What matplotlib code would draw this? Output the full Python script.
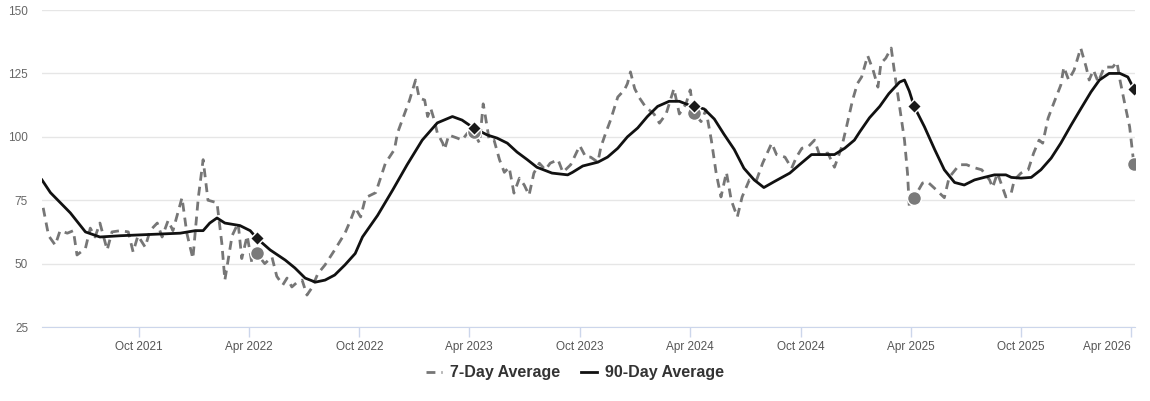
import pandas as pd
import matplotlib.pyplot as plt

plt.rcParams['font.family'] = ['Liberation Sans', 'DejaVu Sans']

# 7-day average
DAYS_7 = [
    '2021-04-25', '2021-05-04', '2021-05-15', '2021-05-23', '2021-06-04', '2021-06-14',
    '2021-06-20', '2021-07-04', '2021-07-12', '2021-07-20', '2021-07-28', '2021-08-09',
    '2021-08-17', '2021-08-31', '2021-09-13', '2021-09-21', '2021-09-29', '2021-10-11',
    '2021-10-19', '2021-10-31', '2021-11-08', '2021-11-18', '2021-11-26', '2021-12-11',
    '2021-12-19', '2021-12-29', '2022-01-07', '2022-01-15', '2022-01-23', '2022-02-07',
    '2022-02-15', '2022-02-20', '2022-03-04', '2022-03-14', '2022-03-20', '2022-03-29',
    '2022-04-06', '2022-04-14', '2022-04-27', '2022-05-09', '2022-05-17', '2022-05-27',
    '2022-06-03', '2022-06-11', '2022-06-20', '2022-06-28', '2022-07-06', '2022-07-14',
    '2022-07-24', '2022-08-05', '2022-08-21', '2022-09-07', '2022-09-16', '2022-09-24',
    '2022-10-03', '2022-10-11', '2022-10-28', '2022-11-13', '2022-11-28', '2022-12-03',
    '2022-12-23', '2023-01-02', '2023-01-08', '2023-01-17', '2023-01-22', '2023-01-27',
    '2023-02-02', '2023-02-07', '2023-02-16', '2023-02-19', '2023-02-26', '2023-03-12',
    '2023-03-20', '2023-03-29', '2023-04-08', '2023-04-18', '2023-04-24', '2023-04-27',
    '2023-05-04', '2023-05-12', '2023-05-21', '2023-05-29', '2023-06-06', '2023-06-14',
    '2023-06-23', '2023-07-01', '2023-07-09', '2023-07-17', '2023-07-26', '2023-08-05',
    '2023-08-13', '2023-08-26', '2023-09-03', '2023-09-16', '2023-10-01', '2023-10-11',
    '2023-10-19', '2023-10-31', '2023-11-05', '2023-11-13', '2023-11-21', '2023-12-03',
    '2023-12-14', '2023-12-19', '2023-12-24', '2023-12-31', '2024-01-08', '2024-01-18',
    '2024-02-01', '2024-02-10', '2024-02-21', '2024-03-05', '2024-03-14', '2024-03-25',
    '2024-04-01', '2024-04-07', '2024-04-19', '2024-04-27', '2024-05-06', '2024-05-14',
    '2024-05-22', '2024-05-31', '2024-06-08', '2024-06-18', '2024-06-26', '2024-07-08',
    '2024-07-20', '2024-07-30', '2024-08-14', '2024-08-22', '2024-09-05', '2024-09-16',
    '2024-09-24', '2024-10-03', '2024-10-13', '2024-10-24', '2024-11-01', '2024-11-15',
    '2024-11-26', '2024-12-08', '2024-12-16', '2024-12-26', '2025-01-03', '2025-01-10',
    '2025-01-20', '2025-01-29', '2025-02-06', '2025-02-11', '2025-02-19', '2025-02-28',
    '2025-03-05', '2025-03-14', '2025-03-22', '2025-03-27', '2025-03-30', '2025-04-07',
    '2025-04-21', '2025-04-29', '2025-05-14', '2025-05-27', '2025-06-04', '2025-06-21',
    '2025-07-03', '2025-07-13', '2025-07-28', '2025-08-10', '2025-08-15', '2025-08-23',
    '2025-09-06', '2025-09-15', '2025-09-20', '2025-10-01', '2025-10-13', '2025-10-22',
    '2025-10-31', '2025-11-06', '2025-11-15', '2025-11-25', '2025-12-06', '2025-12-11',
    '2025-12-19', '2025-12-28', '2026-01-08', '2026-01-17', '2026-01-22', '2026-01-29',
    '2026-02-06', '2026-02-16', '2026-03-02', '2026-03-09', '2026-03-14', '2026-03-22',
    '2026-03-30', '2026-04-06',
]
AVG_7 = [
    72, 61, 57.3, 63, 62, 63,
    53.4, 56, 64, 60.5, 66, 55.4,
    62.5, 63, 62.5, 54.6, 61, 56.5,
    63, 66, 60.5, 67, 63, 76,
    62, 52, 76, 91, 75, 74,
    58, 43.5, 61, 66, 52, 61,
    50, 54, 50, 52.6, 45, 41.6,
    44.3, 40.8, 42.7, 43.5, 37.6, 40.4,
    46, 49.5, 55.4, 62, 67, 72,
    68.4, 76, 78, 89.6, 95, 101.5,
    114.5, 122.4, 115.3, 114.5, 108, 111.3,
    106.6, 101.5, 97.5, 95, 100.7, 99.5,
    98.7, 101.5, 102, 97.5, 113, 109,
    98.7, 98.7, 91, 86, 88, 77.8,
    83.7, 81, 77, 85.7, 89.6, 87,
    89.6, 91, 86, 89, 96.5, 92,
    92, 90, 96, 101.5, 106.6, 115.7,
    118.5, 121, 125.6, 119, 115.3, 111.8,
    109, 105.4, 109, 119, 109, 113,
    118.5, 109.5, 106, 110.6, 98.7, 85.7,
    76.3, 86, 75, 68.4, 76.3, 83,
    83, 89.6, 97.5, 93, 92, 87.6,
    92, 95.5, 96, 98.7, 93, 93.6,
    88, 96, 104, 114.5, 121, 123.6,
    132, 126.3, 119.6, 129, 131, 135,
    126.3, 111.8, 98.7, 85.7, 72.3, 76,
    81.8, 82.3, 79, 76, 84, 89,
    89, 88, 87, 83, 80, 85.7,
    76.3, 78, 83, 85.7, 87, 93.6,
    98.7, 97.5, 107.4, 113.7, 120.4, 127.5,
    122.4, 126.3, 135, 127.5, 122.4, 126.3,
    121.6, 127.5, 127.5, 129.5, 122.4, 113,
    104, 89.3,
]

# 90-day average
DAYS_90 = [
    '2021-04-23', '2021-05-07', '2021-06-09', '2021-07-04', '2021-07-28', '2021-08-31',
    '2021-10-19', '2021-12-08', '2022-01-02', '2022-01-15', '2022-01-26', '2022-02-07',
    '2022-02-20', '2022-03-17', '2022-04-03', '2022-04-14', '2022-05-06', '2022-05-31',
    '2022-06-16', '2022-07-03', '2022-07-20', '2022-08-05', '2022-08-21', '2022-09-07',
    '2022-09-24', '2022-10-06', '2022-10-31', '2022-11-25', '2022-12-19', '2023-01-13',
    '2023-02-07', '2023-03-04', '2023-03-20', '2023-04-08', '2023-05-01', '2023-05-17',
    '2023-06-03', '2023-06-19', '2023-07-06', '2023-07-22', '2023-08-16', '2023-09-11',
    '2023-09-19', '2023-10-06', '2023-10-31', '2023-11-16', '2023-12-03', '2023-12-19',
    '2024-01-05', '2024-01-21', '2024-02-07', '2024-02-26', '2024-03-14', '2024-03-30',
    '2024-04-07', '2024-04-24', '2024-05-11', '2024-05-27', '2024-06-13', '2024-06-29',
    '2024-07-16', '2024-08-01', '2024-08-18', '2024-09-13', '2024-09-29', '2024-10-19',
    '2024-11-10', '2024-11-26', '2024-12-13', '2024-12-29', '2025-01-07', '2025-01-23',
    '2025-02-09', '2025-02-24', '2025-03-14', '2025-03-22', '2025-03-30', '2025-04-07',
    '2025-04-24', '2025-05-11', '2025-05-27', '2025-06-13', '2025-06-29', '2025-07-16',
    '2025-08-01', '2025-08-18', '2025-09-06', '2025-09-15', '2025-10-01', '2025-10-18',
    '2025-11-03', '2025-11-20', '2025-12-06', '2025-12-23', '2026-01-08', '2026-01-25',
    '2026-02-08', '2026-02-24', '2026-03-14', '2026-03-27', '2026-04-06',
]
AVG_90 = [
    83, 78, 70, 62.5, 60.5, 61,
    61.5, 62, 63, 63, 66, 68,
    66, 65, 63, 60, 55.4, 51.4,
    48.3, 44.3, 42.7, 43.5, 45.5, 49.5,
    54, 60.5, 69, 79, 89, 98.7,
    105.5, 108, 106.6, 103.5, 100.7, 99.5,
    97.5, 94, 91, 88, 85.7, 85,
    86, 88.5, 90, 92, 95.5, 100,
    103.5, 108, 112, 114, 114, 112.5,
    112, 111, 107, 101, 95, 87.6,
    83, 80, 82.3, 85.7, 89, 93,
    93, 93, 95.5, 98.7, 102, 107.5,
    112, 117, 121.6, 122.4, 118, 112,
    104, 95, 87, 82, 81, 83,
    84, 85, 85, 84, 83.7, 84,
    87, 91.6, 97.5, 104.6, 111, 117.7,
    122.4, 125, 125, 123.6, 119,
]

# same-date markers each April
MARK_DAYS = ['2022-04-14', '2023-04-08', '2024-04-07', '2025-04-07', '2026-04-06']
MARK_7 = [54, 102, 109.5, 76, 89.3]
MARK_90 = [60, 103.5, 112, 112, 119]

TICK_DAYS = ['2021-10-01', '2022-04-01', '2022-10-01', '2023-04-01', '2023-10-01',
             '2024-04-01', '2024-10-01', '2025-04-01', '2025-10-01', '2026-04-01']
TICK_LABELS = ['Oct 2021', 'Apr 2022', 'Oct 2022', 'Apr 2023', 'Oct 2023',
               'Apr 2024', 'Oct 2024', 'Apr 2025', 'Oct 2025', 'Apr 2026']
Y_TICKS = [25, 50, 75, 100, 125, 150]

fig = plt.figure(figsize=(11.5, 4.01), dpi=100)
ax = fig.add_axes([0.0365, 0.1845, 0.9505, 0.7905])

l7, = ax.plot(pd.to_datetime(DAYS_7), AVG_7, color='#767676', lw=2.0,
              dashes=(3.2, 2.2), zorder=3, label='7-Day Average')
l90, = ax.plot(pd.to_datetime(DAYS_90), AVG_90, color='#111111', lw=2.0,
               zorder=4, label='90-Day Average')
ax.plot(pd.to_datetime(MARK_DAYS), MARK_7, 'o', color='#7a7a7a', ms=10,
        mec='white', mew=1, zorder=5)
ax.plot(pd.to_datetime(MARK_DAYS), MARK_90, 'D', color='#1a1a1a', ms=7,
        mec='white', mew=1, zorder=6)

ax.set_xlim(pd.Timestamp('2021-04-23'), pd.Timestamp('2026-04-08'))
ax.set_ylim(25, 150)
ax.set_yticks(Y_TICKS)
ax.set_xticks(pd.to_datetime(TICK_DAYS))
ax.set_xticklabels(TICK_LABELS)
# last label is pushed inside the chart, like the original
ax.get_xticklabels()[-1].set_horizontalalignment('right')

ax.grid(axis='y', color='#e6e6e6', lw=1)
ax.set_axisbelow(True)
for s in ['top', 'right', 'left']:
    ax.spines[s].set_visible(False)
ax.spines['bottom'].set_color('#ccd6eb')
ax.tick_params(axis='y', length=0, pad=10, labelsize=8.5, labelcolor='#666666')
ax.tick_params(axis='x', length=7, width=1, color='#ccd6eb', pad=3,
               labelsize=8.5, labelcolor='#555555')

leg = fig.legend(handles=[l7, l90], loc='center', bbox_to_anchor=(0.5, 0.07),
                 ncol=2, frameon=False, handlelength=1.0, handletextpad=0.5,
                 columnspacing=1.3, prop={'weight': 'bold', 'size': 11.5})
for t in leg.get_texts():
    t.set_color('#333333')

fig.savefig('out.png', dpi=100)
